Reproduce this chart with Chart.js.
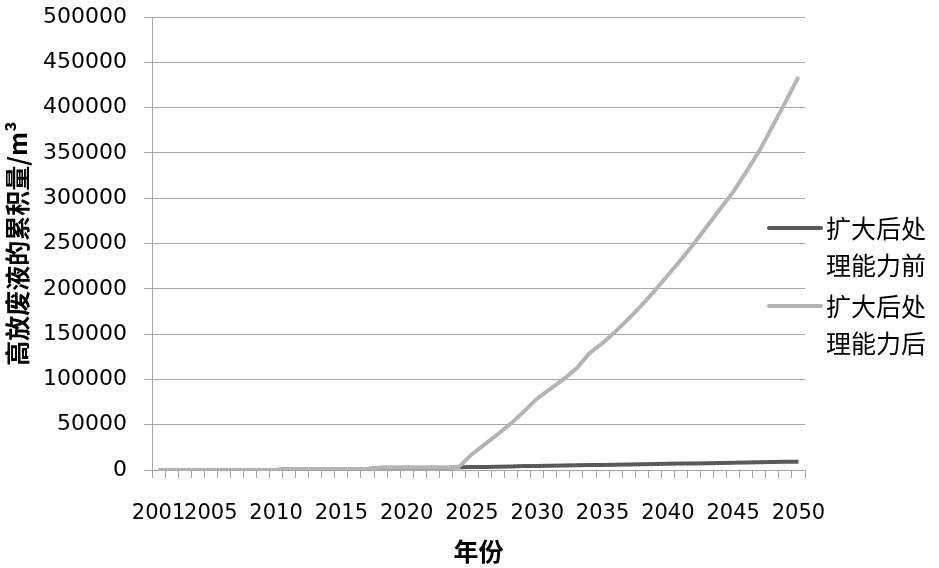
<!DOCTYPE html>
<html>
<head>
<meta charset="utf-8">
<script src="https://cdn.jsdelivr.net/npm/chart.js@4/dist/chart.umd.min.js"></script>
<style>
  body { margin: 0; background: #fff; }
  #wrap { width: 939px; height: 568px; }
</style>
</head>
<body>
<div id="wrap"><canvas id="wasteChart" width="939" height="568"></canvas></div>
<script>
// Data
const years = [2001, 2002, 2003, 2004, 2005, 2006, 2007, 2008, 2009, 2010,
    2011, 2012, 2013, 2014, 2015, 2016, 2017, 2018, 2019, 2020,
    2021, 2022, 2023, 2024, 2025, 2026, 2027, 2028, 2029, 2030,
    2031, 2032, 2033, 2034, 2035, 2036, 2037, 2038, 2039, 2040,
    2041, 2042, 2043, 2044, 2045, 2046, 2047, 2048, 2049, 2050];
const shownYears = [2001, 2005, 2010, 2015, 2020, 2025, 2030, 2035, 2040, 2045, 2050];
const yTicks = [0, 50000, 100000, 150000, 200000, 250000, 300000, 350000, 400000, 450000, 500000];

const beforeExpand = [0, 0, 0, 0, 0, 0, 0, 0, 0, 0,
    1200, 1200, 1200, 1200, 1200, 1200, 1200, 2500, 2500, 2500,
    2500, 2500, 2500, 3000, 3200, 3400, 3700, 4000, 4300, 4500,
    4700, 4900, 5200, 5400, 5600, 5900, 6100, 6300, 6600, 6800,
    7100, 7300, 7500, 7800, 8000, 8200, 8500, 8700, 9000, 9200];
const afterExpand = [0, 0, 0, 0, 0, 0, 0, 0, 0, 0,
    1200, 1200, 1200, 1200, 1200, 1200, 1200, 2500, 2500, 2500,
    2500, 2500, 2500, 3500, 17500, 28500, 39700, 51500, 65000, 79000,
    89500, 100000, 112000, 129000, 140000, 153000, 167000, 182000, 198000, 215000,
    232000, 250000, 269000, 288000, 307000, 329000, 352000, 379000, 406000, 434000];

const seriesNames = [['扩大后处', '理能力前'], ['扩大后处', '理能力后']];
const seriesColors = ['#595959', '#b4b4b4'];

const gridColor = '#a6a6a6';
const cjkFont = '"Noto Sans CJK SC", sans-serif';

// legend on the right, text wrapped on two lines
const sideLegend = {
    id: 'sideLegend',
    afterDraw(chart) {
        const ctx = chart.ctx;
        const rows = [228, 306];
        ctx.save();
        chart.data.datasets.forEach((ds, i) => {
            const y = rows[i];
            ctx.strokeStyle = ds.borderColor;
            ctx.lineWidth = 4;
            ctx.lineCap = 'round';
            ctx.beginPath();
            ctx.moveTo(769, y);
            ctx.lineTo(821, y);
            ctx.stroke();
            ctx.fillStyle = '#000';
            ctx.font = '25px ' + cjkFont;
            ctx.textBaseline = 'middle';
            ctx.textAlign = 'left';
            seriesNames[i].forEach((line, k) => {
                ctx.fillText(line, 826, y + k * 37);
            });
        });
        ctx.restore();
    }
};

const ctx = document.getElementById('wasteChart').getContext('2d');
const wasteChart = new Chart(ctx, {
    type: 'line',
    data: {
        labels: years,
        datasets: [{
            label: seriesNames[0].join(''),
            data: beforeExpand,
            borderColor: seriesColors[0],
            borderWidth: 4,
            pointRadius: 0,
            order: 2
        }, {
            label: seriesNames[1].join(''),
            data: afterExpand,
            borderColor: seriesColors[1],
            borderWidth: 4,
            pointRadius: 0,
            order: 1
        }]
    },
    options: {
        responsive: false,
        animation: false,
        layout: { padding: { top: 17, right: 134, bottom: 0, left: 0 } },
        plugins: {
            legend: { display: false },
            tooltip: { enabled: false }
        },
        scales: {
            x: {
                type: 'category',
                offset: true,
                afterFit: (scale) => {
                    scale.height = 98;
                    scale.paddingLeft = 0;
                    scale.paddingRight = 0;
                },
                grid: {
                    offset: true,
                    drawOnChartArea: false,
                    drawTicks: true,
                    tickLength: 8,
                    tickColor: gridColor
                },
                border: { color: gridColor },
                ticks: {
                    autoSkip: false,
                    maxRotation: 0,
                    padding: 23,
                    color: '#000',
                    font: { family: 'DejaVu Sans', size: 21 },
                    callback: function (value) {
                        const yr = this.getLabelForValue(value);
                        return shownYears.includes(yr) ? String(yr) : '';
                    }
                },
                title: {
                    display: true,
                    text: '年份',
                    color: '#000',
                    font: { family: cjkFont, size: 25, weight: 'bold' },
                    padding: { top: 6, bottom: 2 }
                }
            },
            y: {
                min: 0,
                max: 500000,
                afterBuildTicks: (scale) => {
                    scale.ticks = yTicks.map(v => ({ value: v }));
                },
                afterFit: (scale) => {
                    scale.width = 152;
                    scale.paddingTop = 0;
                    scale.paddingBottom = 0;
                },
                grid: {
                    color: gridColor,
                    lineWidth: 1,
                    drawTicks: true,
                    tickLength: 8,
                    tickColor: gridColor
                },
                border: { color: gridColor },
                ticks: {
                    padding: 17,
                    color: '#000',
                    font: { family: 'DejaVu Sans', size: 22 },
                    callback: (value) => String(value)
                },
                title: {
                    display: true,
                    text: '高放废液的累积量/m³',
                    color: '#000',
                    font: { family: cjkFont, size: 25, weight: 'bold' },
                    padding: { top: 2, bottom: 0 }
                }
            }
        }
    },
    plugins: [sideLegend]
});
</script>
</body>
</html>
